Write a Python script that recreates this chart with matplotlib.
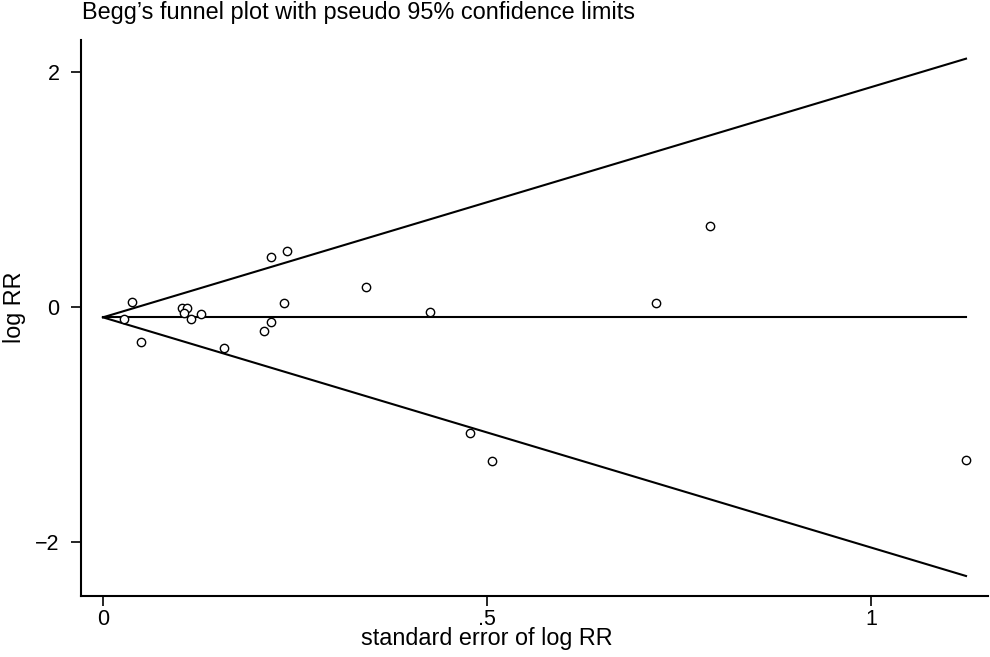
import numpy as np
import matplotlib
matplotlib.use("Agg")
import matplotlib.pyplot as plt
import matplotlib.transforms as mtransforms

plt.rcParams['font.family'] = ['Liberation Sans', 'DejaVu Sans']

# Data
se = [0.027, 0.038, 0.050, 0.103, 0.109, 0.106, 0.114, 0.128, 0.157, 0.209,
      0.219, 0.219, 0.235, 0.240, 0.342, 0.426, 0.478, 0.506, 0.720, 0.790, 1.123]
log_rr = [-0.105, 0.043, -0.298, -0.006, -0.006, -0.051, -0.105, -0.057, -0.351, -0.204,
          0.423, -0.125, 0.034, 0.474, 0.168, -0.040, -1.075, -1.308, 0.031, 0.689, -1.305]
pooled = -0.088
x_ticks = [0, 0.5, 1]
x_tick_labels = ["0", ".5", "1"]
y_ticks = [-2, 0, 2]

fig = plt.figure(figsize=(9.9, 6.57), dpi=100)
ax = fig.add_axes([81/990, 61.5/657, (988-81)/990, (595.5-40)/657])

se_line = np.array([0.0, max(se)])
ax.plot(se_line, pooled + 1.96*se_line, color='black', lw=1.5)
ax.plot(se_line, pooled - 1.96*se_line, color='black', lw=1.5)
ax.plot(se_line, [pooled, pooled], color='black', lw=1.5)

ax.scatter(se, log_rr, s=36, facecolors='white', edgecolors='black', linewidths=1.0, zorder=3)

ax.set_xlim(-0.0286, 1.1516)
ax.set_ylim(-2.455, 2.272)
ax.set_xticks(x_ticks)
ax.set_xticklabels(x_tick_labels)
ax.set_yticks(y_ticks)

for s in ['top', 'right']:
    ax.spines[s].set_visible(False)
for s in ['left', 'bottom']:
    ax.spines[s].set_linewidth(1.5)

ax.tick_params(axis='both', direction='out', length=7.5, width=1.2, labelsize=15.5, colors='black')
ax.tick_params(axis='x', pad=2.5)
ax.tick_params(axis='y', pad=8)

ax.set_xlabel("standard error of log RR", fontsize=16.8)
ax.set_ylabel("log RR", fontsize=16.8)
# Stata centres axis titles on the middle of the data range
ax.xaxis.set_label_coords(0.5, -(645.5 - 595.5)/555.5,
                          transform=mtransforms.blended_transform_factory(ax.transData, ax.transAxes))
ax.xaxis.label.set_va('baseline')
ax.yaxis.set_label_coords((21 - 81)/907, 0.0,
                          transform=mtransforms.blended_transform_factory(ax.transAxes, ax.transData))
ax.yaxis.label.set_va('baseline')

fig.text(82/990, 1 - 19/657, "Begg\u2019s funnel plot with pseudo 95% confidence limits",
         fontsize=16.9, ha='left', va='baseline')

fig.savefig("out.png", dpi=100)
